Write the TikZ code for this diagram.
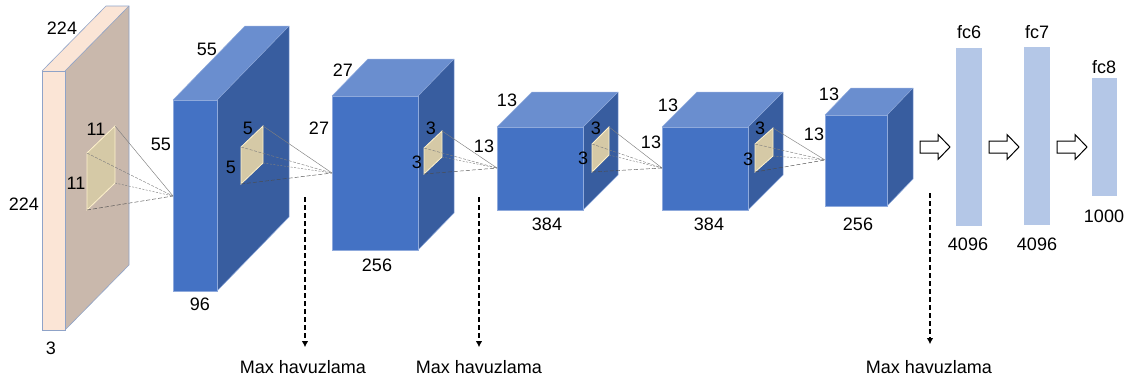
\documentclass[tikz,border=0pt]{standalone}
\usepackage{fontspec}
\setmainfont{Liberation Sans}
\usetikzlibrary{arrows.meta}
\definecolor{inFront}{HTML}{FBE5D6}
\definecolor{inSide}{HTML}{C9B8AC}
\definecolor{inEdge}{HTML}{8FA3C8}
\definecolor{cFront}{HTML}{4472C4}
\definecolor{cTop}{HTML}{6A8ECF}
\definecolor{cSide}{HTML}{385D9F}
\definecolor{cEdge}{HTML}{8FAADC}
\definecolor{kFill}{HTML}{D5C9A6}
\definecolor{kEdge}{HTML}{FFF2CC}
\definecolor{fcFill}{HTML}{B4C7E7}
\definecolor{lineGray}{HTML}{7F7F7F}
% block: name, x, y, w, h, dx, dy
\newcommand{\myblock}[7]{%
  \fill[cFront] (#2,#3) rectangle ++(#4,#5);
  \fill[cTop] (#2,#3) -- ++(#6,-#7) -- ++(#4,0) -- ++(-#6,#7) -- cycle;
  \fill[cSide] (#2+#4,#3) -- ++(#6,-#7) -- ++(0,#5) -- ++(-#6,#7) -- cycle;
  \draw[blockedge] (#2,#3) rectangle ++(#4,#5);
  \draw[blockedge] (#2,#3) -- ++(#6,-#7) -- ++(#4,0) -- ++(0,#5) -- ++(-#6,#7);
  \draw[blockedge] (#2+#4,#3) -- ++(#6,-#7);
  \coordinate (#1) at (#2,#3);
}
% kernel: name, tlx, tly, dx, dy(offset up), h
\newcommand{\mykernel}[6]{%
  \coordinate (#1tl) at (#2,#3);
  \coordinate (#1tr) at (#2+#4,#3-#5);
  \coordinate (#1br) at (#2+#4,#3-#5+#6);
  \coordinate (#1bl) at (#2,#3+#6);
  \filldraw[kernel] (#1tl) -- (#1tr) -- (#1br) -- (#1bl) -- cycle;
}
\newcommand{\myrays}[2]{%
  \draw[ray] (#1tr) -- (#2);
  \draw[ray, dashed, dash pattern=on 3pt off 1.5pt] (#1tl) -- (#2);
  \draw[ray, dashed, dash pattern=on 2pt off 1.5pt] (#1br) -- (#2);
  \draw[ray, dashed, dash pattern=on 4pt off 2pt, draw=black!70] (#1bl) -- (#2);
}
\tikzset{
  blockedge/.style={draw=cEdge, line width=0.5pt},
  kernel/.style={fill=kFill, draw=kEdge, line width=0.8pt},
  ray/.style={draw=lineGray, line width=0.45pt},
  lbl/.style={inner sep=0pt, font=\fontsize{18}{20}\selectfont},
  fcbar/.style={fill=fcFill, draw=none, inner sep=0pt, minimum width=26pt},
  poolarrow/.style={line width=1.8pt, dash pattern=on 5pt off 3pt, -{Latex[length=6pt,width=6.5pt]}, shorten >=13pt},
  hollow/.style={draw=black, fill=white, line width=1pt}
}
\begin{document}
\begin{tikzpicture}[x=1pt,y=-1pt]
\useasboundingbox (0,0) rectangle (1128,383);
% input slab
\fill[inFront] (42,71) rectangle (65,330);
\fill[inFront] (42,71) -- (106,6) -- (129,6) -- (65,71) -- cycle;
\fill[inSide] (65,71) -- (129,6) -- (129,265) -- (65,330) -- cycle;
\draw[draw=inEdge, line width=0.6pt] (42,71) rectangle (65,330);
\draw[draw=inEdge, line width=0.6pt] (42,71) -- (106,6) -- (129,6) -- (129,265) -- (65,330);
\draw[draw=inEdge, line width=0.6pt] (65,71) -- (129,6);
\coordinate (input) at (42,71);
% blocks
\myblock{b1}{173}{100}{44}{191}{72}{74}
\myblock{b2}{332}{96}{86}{154}{36}{37}
\myblock{b3}{497}{127}{86}{83}{35}{35}
\myblock{b4}{662}{127}{86}{83}{35}{35}
\myblock{b5}{825}{115}{62}{91}{26}{27}
% apex points
\coordinate (a1) at (173,196);
\coordinate (a2) at (332,173);
\coordinate (a3) at (497,168);
\coordinate (a4) at (662,168);
\coordinate (a5) at (825,160);
% kernels
\mykernel{k0}{87}{153}{28}{27}{57}
\mykernel{k1}{241}{147}{22}{21}{37}
\mykernel{k2}{424}{148}{18}{17}{26}
\mykernel{k3}{592}{144}{17}{17}{28}
\mykernel{k4}{755}{144}{18}{16}{28}
\myrays{k0}{a1}
\myrays{k1}{a2}
\myrays{k2}{a3}
\myrays{k3}{a4}
\myrays{k4}{a5}
% labels
\node[lbl] (l1) at (62,28) {224};
\node[lbl] (l2) at (96,129) {11};
\node[lbl] (l3) at (76,183) {11};
\node[lbl] (l4) at (24,204) {224};
\node[lbl] (l5) at (51,348) {3};
\node[lbl] (l6) at (207,49) {55};
\node[lbl] (l7) at (161,144) {55};
\node[lbl] (l8) at (200,304) {96};
\node[lbl] (l9) at (248,128) {5};
\node[lbl] (l10) at (231,167) {5};
\node[lbl] (l11) at (343,70) {27};
\node[lbl] (l12) at (319,128) {27};
\node[lbl] (l13) at (377,265) {256};
\node[lbl] (l14) at (431,128) {3};
\node[lbl] (l15) at (417,162) {3};
\node[lbl] (l16) at (507,100) {13};
\node[lbl] (l17) at (484,146) {13};
\node[lbl] (l18) at (547,224) {384};
\node[lbl] (l19) at (596,128) {3};
\node[lbl] (l20) at (583,158) {3};
\node[lbl] (l21) at (668,105) {13};
\node[lbl] (l22) at (651,142) {13};
\node[lbl] (l23) at (709,224) {384};
\node[lbl] (l24) at (760,128) {3};
\node[lbl] (l25) at (748,159) {3};
\node[lbl] (l26) at (829,94) {13};
\node[lbl] (l27) at (814,134) {13};
\node[lbl] (l28) at (858,224) {256};
% fully connected
\node[fcbar, minimum height=178pt] (fc6) at (969,137) {};
\node[fcbar, minimum height=178pt] (fc7) at (1037,136) {};
\node[fcbar, minimum height=118pt, minimum width=25pt] (fc8) at (1104.5,137) {};
\node[lbl] (t6) at (969,32) {fc6};
\node[lbl] (t7) at (1037,32) {fc7};
\node[lbl] (t8) at (1104,67) {fc8};
\node[lbl] (n6) at (968,244) {4096};
\node[lbl] (n7) at (1037,244) {4096};
\node[lbl] (n8) at (1104,216) {1000};
% hollow arrows
\foreach \x/\nm in {920/h1, 989/h2, 1057/h3}{
  \draw[hollow] (\x,141) -- (\x+18,141) -- (\x+18,134.5) -- (\x+30,147) -- (\x+18,159.5) -- (\x+18,153) -- (\x,153) -- cycle;
  \coordinate (\nm) at (\x,147);
}
% pooling
\node[lbl] (m1) at (303,367) {Max havuzlama};
\node[lbl] (m2) at (479,367) {Max havuzlama};
\node[lbl] (m3) at (929,367) {Max havuzlama};
\coordinate (p1) at (305,197);
\coordinate (p2) at (479,197);
\coordinate (p3) at (930,193);
\draw[poolarrow] (p1) -- (p1 |- m1.north);
\draw[poolarrow] (p2) -- (p2 |- m2.north);
\draw[poolarrow, shorten >=16pt] (p3) -- (p3 |- m3.north);
\end{tikzpicture}
\end{document}
